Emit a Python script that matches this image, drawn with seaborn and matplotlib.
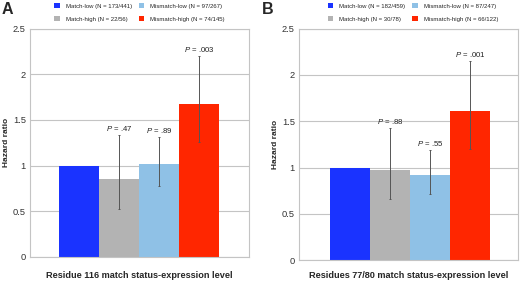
import pandas as pd
import matplotlib
matplotlib.use('Agg')
import matplotlib.pyplot as plt
from matplotlib.patches import Patch
import seaborn as sns

# --- data ---
groups = ['Match-low', 'Match-high', 'Mismatch-low', 'Mismatch-high']
colors = ['#1a33ff', '#b3b3b3', '#8fc1e6', '#ff2600']

hr_a = [1.0, 0.85, 1.02, 1.67]
lo_a = [None, 0.53, 0.78, 1.26]
hi_a = [None, 1.33, 1.31, 2.20]
p_a = [None, '.47', '.89', '.003']
n_a = ['173/441', '22/56', '97/267', '74/145']

hr_b = [1.0, 0.97, 0.92, 1.61]
lo_b = [None, 0.66, 0.71, 1.20]
hi_b = [None, 1.43, 1.19, 2.15]
p_b = [None, '.88', '.55', '.001']
n_b = ['182/459', '30/78', '87/247', '66/122']

yticks = [0, 0.5, 1, 1.5, 2, 2.5]
ytick_labels = ['0', '0.5', '1', '1.5', '2', '2.5']

sns.set_style('white')
plt.rcParams['font.family'] = ['Liberation Sans', 'DejaVu Sans']
plt.rcParams['mathtext.fontset'] = 'custom'
plt.rcParams['mathtext.it'] = 'Liberation Sans:italic'
plt.rcParams['mathtext.rm'] = 'Liberation Sans'

fig = plt.figure(figsize=(5.2, 2.81), dpi=100)
ax_a = fig.add_axes([30 / 520, 24 / 281, 219 / 520, 228.5 / 281])
ax_b = fig.add_axes([299 / 520, 21 / 281, 219 / 520, 231.25 / 281])

grid_col = '#c4c4c4'


def draw_panel(ax, hr, lo, hi, pvals, ns, xlabel, xlim, leg_x, xpad):
    df = pd.DataFrame({'group': groups, 'hr': hr})
    sns.barplot(data=df, x='group', y='hr', hue='group', order=groups,
                hue_order=groups, palette=dict(zip(groups, colors)),
                width=1.0, saturation=1, legend=False, ax=ax, zorder=2,
                linewidth=0, edgecolor='none')
    for i in range(len(groups)):
        if lo[i] is None:
            continue
        ax.errorbar(i, hr[i], yerr=[[hr[i] - lo[i]], [hi[i] - hr[i]]],
                    fmt='none', ecolor='#555555', elinewidth=0.7,
                    capsize=1, capthick=0.7, zorder=3)
        ax.annotate(f'$P$ = {pvals[i]}', xy=(i, hi[i]), xytext=(0, 1.5),
                    textcoords='offset points', ha='center', va='bottom',
                    fontsize=5.6, color='#222222')

    ax.set_xlim(*xlim)
    ax.set_ylim(0, 2.5)
    ax.set_yticks(yticks)
    ax.set_yticklabels(ytick_labels)
    ax.set_xticks([])
    ax.tick_params(axis='y', length=0, pad=3, labelsize=6.7, labelcolor='#333333')
    ax.set_axisbelow(True)
    ax.yaxis.grid(True, color=grid_col, linewidth=0.8)
    for sp in ax.spines.values():
        sp.set_color(grid_col)
        sp.set_linewidth(0.8)

    ax.set_ylabel('Hazard ratio', fontsize=6, fontweight='bold', labelpad=2)
    ax.set_xlabel(xlabel, fontsize=6.6, fontweight='bold', labelpad=xpad)

    handles = [Patch(facecolor=c, edgecolor='none') for c in colors]
    labels = [f'{g} (N = {n})' for g, n in zip(groups, ns)]
    ax.legend(handles, labels, ncol=2, loc='center', bbox_to_anchor=(leg_x, 1.07),
              frameon=False, fontsize=4.3, handlelength=0.9, handleheight=0.9,
              handletextpad=1.0, columnspacing=1.2, labelspacing=1.2, borderpad=0)


draw_panel(ax_a, hr_a, lo_a, hi_a, p_a, n_a,
           'Residue 116 match status-expression level', (-1.225, 4.25), 0.5, 10)
draw_panel(ax_b, hr_b, lo_b, hi_b, p_b, n_b,
           'Residues 77/80 match status-expression level', (-1.275, 4.2), 0.52, 8)

fig.text(2 / 520, 1 - 14 / 281, 'A', fontsize=11.5, fontweight='bold', va='baseline')
fig.text(262 / 520, 1 - 14 / 281, 'B', fontsize=11.5, fontweight='bold', va='baseline')

fig.savefig('out.png', dpi=100)
